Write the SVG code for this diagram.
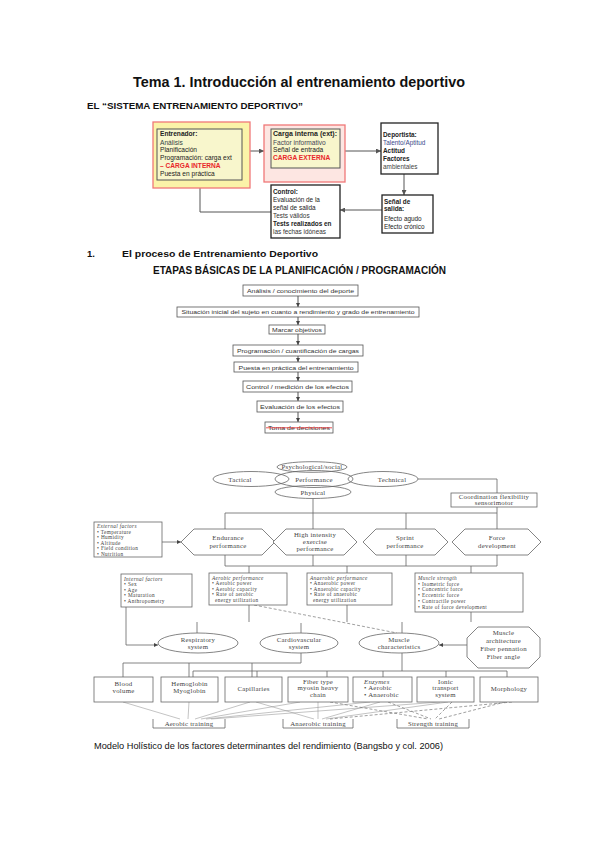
<svg xmlns="http://www.w3.org/2000/svg" width="599" height="848" viewBox="0 0 599 848">
<style>
.s{font-family:"Liberation Sans",Arial,sans-serif}
.b{font-weight:bold}
.r{fill:#e8262a}
.d{fill:#333}
.fc{font-family:"Liberation Sans",Arial,sans-serif;font-size:6px;fill:#333}
.fb{fill:#fff;stroke:#555;stroke-width:0.8}
.h{font-family:"Liberation Serif","Times New Roman",serif;font-size:6.8px;fill:#444;letter-spacing:0.25px}
.hm{font-family:"Liberation Serif","Times New Roman",serif;font-size:5.3px;fill:#444;letter-spacing:0.35px}
.hc{text-anchor:middle}
.i{font-style:italic}
.ln{fill:none;stroke:#555;stroke-width:1}
.hl{fill:none;stroke:#666;stroke-width:0.8}
.hs{fill:#fff;stroke:#666;stroke-width:0.8}
.dash{fill:none;stroke:#777;stroke-width:0.7;stroke-dasharray:3 2}
.thin{fill:none;stroke:#888;stroke-width:0.5}
</style>
<defs>
<marker id="ar" viewBox="0 0 6 6" refX="6" refY="3" markerWidth="5" markerHeight="5" orient="auto" markerUnits="userSpaceOnUse">
<path d="M0,0 L6,3 L0,6 z" fill="#555"/>
</marker>
<marker id="ah" viewBox="0 0 6 6" refX="6" refY="3" markerWidth="4" markerHeight="4" orient="auto" markerUnits="userSpaceOnUse">
<path d="M0,0 L6,3 L0,6 z" fill="#444"/>
</marker>
</defs>
<rect width="599" height="848" fill="#fff"/>

<text class="s b" x="299" y="87" font-size="14.5" text-anchor="middle" textLength="332" lengthAdjust="spacingAndGlyphs" fill="#111">Tema 1. Introducción al entrenamiento deportivo</text>
<text class="s b" x="87" y="109" font-size="8.6" textLength="216" lengthAdjust="spacingAndGlyphs" fill="#111">EL “SISTEMA ENTRENAMIENTO DEPORTIVO”</text>

<!-- First diagram -->
<g id="connectors-sistema">
<line class="ln" x1="242" y1="151" x2="264" y2="151" marker-end="url(#ar)"/>
<line class="ln" x1="340" y1="151" x2="381" y2="151" marker-end="url(#ar)"/>
<line class="ln" x1="404" y1="174" x2="404" y2="195" marker-end="url(#ar)"/>
<line class="ln" x1="382" y1="210" x2="340" y2="210" marker-end="url(#ar)"/>
<polyline class="ln" points="271,212 200,212 200,180" marker-end="url(#ar)"/>
</g>
<g id="entrenador">
<rect x="153" y="122" width="97" height="66" fill="#fbf3a8" stroke="#f07878" stroke-width="1.3"/>
<rect x="157" y="129" width="85" height="51" fill="#f8f6cc" stroke="#555" stroke-width="1"/>
<text class="s" font-size="6.6" x="160" y="136"><tspan class="b" fill="#222">Entrenador:</tspan><tspan x="160" y="144.5" fill="#344">Análisis</tspan><tspan x="160" y="152" fill="#222">Planificación</tspan><tspan x="160" y="160" fill="#222">Programación: carga ext</tspan><tspan x="160" y="168" class="b r">– CARGA INTERNA</tspan><tspan x="160" y="176" fill="#222">Puesta en práctica</tspan></text>
</g>
<g id="carga">
<rect x="264" y="125" width="81" height="57" fill="#fde6e2" stroke="#f07878" stroke-width="1.3"/>
<rect x="271" y="129" width="69" height="39" fill="#f8f6cc" stroke="#555" stroke-width="1"/>
<text class="s b" font-size="6.6" x="273" y="136" fill="#222" textLength="64" lengthAdjust="spacingAndGlyphs">Carga interna (ext):</text>
<text class="s" font-size="6.6" x="273" y="144.5" fill="#445">Factor informativo</text>
<text class="s" font-size="6.6" x="273" y="152" fill="#222">Señal de entrada</text>
<text class="s b r" font-size="6.6" x="273" y="160">CARGA EXTERNA</text>
</g>
<g id="deportista">
<rect x="381" y="123" width="57" height="51" fill="#fff" stroke="#222" stroke-width="1.3"/>
<text class="s" font-size="6.4" x="383" y="137"><tspan class="b" fill="#222">Deportista:</tspan><tspan x="383" y="145" fill="#3a4a8a">Talento/Aptitud</tspan><tspan x="383" y="153" class="b" fill="#222">Actitud</tspan><tspan x="383" y="161" class="b" fill="#222">Factores</tspan><tspan x="383" y="169" fill="#444">ambientales</tspan></text>
</g>
<g id="senal">
<rect x="382" y="195" width="51" height="38" fill="#fff" stroke="#222" stroke-width="1.3"/>
<text class="s" font-size="6.4" x="384" y="204"><tspan class="b" fill="#222">Señal de</tspan><tspan x="384" y="211" class="b" fill="#222">salida:</tspan><tspan x="384" y="221" fill="#222">Efecto agudo</tspan><tspan x="384" y="229" fill="#222">Efecto crónico</tspan></text>
</g>
<g id="control">
<rect x="271" y="185" width="69" height="53" fill="#fff" stroke="#222" stroke-width="1.3"/>
<text class="s" font-size="6.4" x="273" y="194"><tspan class="b" fill="#222">Control:</tspan><tspan x="273" y="202" fill="#222">Evaluación de la</tspan><tspan x="273" y="210" fill="#222">señal de salida</tspan><tspan x="273" y="217.5" fill="#333">Tests válidos</tspan><tspan x="273" y="226" class="b" fill="#222">Tests realizados en</tspan><tspan x="273" y="234" fill="#333">las fechas idóneas</tspan></text>
</g>

<!-- Section 1 -->
<text class="s b" x="87" y="257" font-size="9.5" fill="#111">1.</text>
<text class="s b" x="122" y="257" font-size="9.5" textLength="196" lengthAdjust="spacingAndGlyphs" fill="#111">El proceso de Entrenamiento Deportivo</text>
<text class="s b" x="153" y="274" font-size="10.8" textLength="293" lengthAdjust="spacingAndGlyphs" fill="#111">ETAPAS BÁSICAS DE LA PLANIFICACIÓN / PROGRAMACIÓN</text>

<g id="connectors-etapas">
<line class="ln" x1="298" y1="296" x2="298" y2="307" stroke-width="0.7" marker-end="url(#ah)"/>
<line class="ln" x1="298" y1="317" x2="298" y2="325" stroke-width="0.7" marker-end="url(#ah)"/>
<line class="ln" x1="298" y1="334" x2="298" y2="345" stroke-width="0.7" marker-end="url(#ah)"/>
<line class="ln" x1="298" y1="356" x2="298" y2="362" stroke-width="0.7" marker-end="url(#ah)"/>
<line class="ln" x1="298" y1="372" x2="298" y2="381" stroke-width="0.7" marker-end="url(#ah)"/>
<line class="ln" x1="298" y1="392" x2="298" y2="401" stroke-width="0.7" marker-end="url(#ah)"/>
<line class="ln" x1="298" y1="412" x2="298" y2="422" stroke-width="0.7" marker-end="url(#ah)"/>
</g>
<g id="e1"><rect class="fb" x="243" y="285" width="115" height="11"/><text class="fc" x="300.5" y="292.7" text-anchor="middle" textLength="107" lengthAdjust="spacingAndGlyphs">Análisis / conocimiento del deporte</text></g>
<g id="e2"><rect class="fb" x="177" y="307" width="242" height="10"/><text class="fc" x="298" y="314.3" text-anchor="middle" textLength="233" lengthAdjust="spacingAndGlyphs">Situación inicial del sujeto en cuanto a rendimiento y grado de entrenamiento</text></g>
<g id="e3"><rect class="fb" x="269" y="325" width="56" height="9" stroke="#aaa"/><text class="fc" x="297" y="331.8" text-anchor="middle" textLength="50" lengthAdjust="spacingAndGlyphs">Marcar objetivos</text></g>
<g id="e4"><rect class="fb" x="233" y="345" width="130" height="11" stroke="#999"/><text class="fc" x="298" y="352.8" text-anchor="middle" textLength="122" lengthAdjust="spacingAndGlyphs">Programación / cuantificación de cargas</text></g>
<g id="e5"><rect class="fb" x="234" y="362" width="124" height="10" stroke="#aaa"/><text class="fc" x="296" y="369.5" text-anchor="middle" textLength="115" lengthAdjust="spacingAndGlyphs" fill="#5a4030">Puesta en práctica del entrenamiento</text></g>
<g id="e6"><rect class="fb" x="243" y="381" width="109" height="11" stroke="#333"/><text class="fc" x="297.5" y="389" text-anchor="middle" font-size="6.5" textLength="103" lengthAdjust="spacingAndGlyphs">Control / medición de los efectos</text></g>
<g id="e7"><rect class="fb" x="257" y="401" width="86" height="11" stroke="#222" stroke-width="1"/><text class="fc" x="300" y="409.2" text-anchor="middle" font-size="6.8" textLength="80" lengthAdjust="spacingAndGlyphs" fill="#222">Evaluación de los efectos</text></g>
<g id="e8"><rect class="fb" x="265" y="422" width="68" height="11" stroke="#222" stroke-width="1"/><text class="fc" x="299" y="430.2" text-anchor="middle" font-size="6.8" textLength="62" lengthAdjust="spacingAndGlyphs" fill="#222">Toma de decisiones</text><line x1="266" y1="427.8" x2="332" y2="427.8" stroke="#e8262a" stroke-width="0.8"/></g>

<!-- Holistic model -->
<g id="connectors-holistic">
<polyline class="hl" points="418,479 497,479 497,493"/>
<line class="hl" x1="313" y1="498.5" x2="313" y2="529"/>
<line class="hl" x1="225" y1="513" x2="497" y2="513"/>
<line class="hl" x1="225" y1="513" x2="225" y2="529"/>
<line class="hl" x1="406" y1="513" x2="406" y2="529"/>
<line class="hl" x1="497" y1="507" x2="497" y2="529"/>
<line class="hl" x1="162" y1="542" x2="181" y2="542" marker-end="url(#ah)"/>
<line class="hl" x1="225" y1="555" x2="225" y2="566"/>
<line class="hl" x1="313" y1="555" x2="313" y2="566"/>
<line class="hl" x1="406" y1="555" x2="406" y2="566"/>
<line class="hl" x1="497" y1="555" x2="497" y2="566"/>
<line class="hl" x1="225" y1="566" x2="497" y2="566"/>
<line class="hl" x1="249" y1="566" x2="249" y2="573"/>
<line class="hl" x1="347" y1="566" x2="347" y2="573"/>
<line class="hl" x1="471" y1="566" x2="471" y2="573"/>
<polyline class="hl" points="126,607 126,645 158,645" marker-end="url(#ah)"/>
<line class="hl" x1="197" y1="622" x2="197" y2="633"/>
<line class="hl" x1="249" y1="605" x2="249" y2="622"/>
<line class="hl" x1="301" y1="623" x2="301" y2="633"/>
<line class="hl" x1="347" y1="605" x2="347" y2="622"/>
<line class="hl" x1="402" y1="622" x2="402" y2="633"/>
<line class="hl" x1="471" y1="612" x2="471" y2="622"/>
<line class="dash" x1="254" y1="605" x2="397" y2="633"/>
<line class="hl" x1="467" y1="645" x2="439" y2="645" marker-end="url(#ah)"/>
<line class="hl" x1="301" y1="653" x2="301" y2="663"/>
<line class="hl" x1="123" y1="663" x2="301" y2="663"/>
<line class="hl" x1="123" y1="663" x2="123" y2="677"/>
<line class="hl" x1="189" y1="663" x2="189" y2="677"/>
<line class="hl" x1="252" y1="663" x2="252" y2="677"/>
<line class="hl" x1="402" y1="653" x2="402" y2="671"/>
<line class="hl" x1="193" y1="671" x2="507" y2="671"/>
<line class="hl" x1="193" y1="671" x2="193" y2="677"/>
<line class="hl" x1="257" y1="671" x2="257" y2="677"/>
<line class="hl" x1="327" y1="671" x2="327" y2="677"/>
<line class="hl" x1="383" y1="671" x2="383" y2="677"/>
<line class="hl" x1="446" y1="671" x2="446" y2="677"/>
<line class="hl" x1="507" y1="671" x2="507" y2="677"/>
<line class="thin" x1="123" y1="702" x2="180" y2="719"/>
<line class="thin" x1="189" y1="702" x2="188" y2="719"/>
<line class="thin" x1="250" y1="702" x2="195" y2="719"/>
<line class="thin" x1="300" y1="702" x2="201" y2="719"/>
<line class="thin" x1="370" y1="702" x2="206" y2="719"/>
<line class="thin" x1="440" y1="702" x2="211" y2="719"/>
<line class="thin" x1="256" y1="702" x2="314" y2="719"/>
<line class="thin" x1="318" y1="702" x2="318" y2="719"/>
<line class="thin" x1="380" y1="702" x2="322" y2="719"/>
<line class="thin" x1="448" y1="702" x2="326" y2="719"/>
<line class="dash" x1="330" y1="702" x2="428" y2="719"/>
<line class="dash" x1="388" y1="702" x2="431" y2="719"/>
<line class="dash" x1="452" y1="702" x2="435" y2="719"/>
<line class="dash" x1="505" y1="702" x2="439" y2="719"/>
<line class="dash" x1="512" y1="702" x2="330" y2="719"/>
</g>

<g id="tactical"><ellipse class="hl" cx="251" cy="479" rx="38" ry="7.5"/><text class="h hc" x="240" y="481.5">Tactical</text></g>
<g id="technical"><ellipse class="hl" cx="383" cy="479" rx="35" ry="7.5"/><text class="h hc" x="392" y="481.5">Technical</text></g>
<g id="psychological"><ellipse class="hs" cx="312" cy="467" rx="35" ry="5.3"/><text class="h hc" x="312" y="469.2" font-size="6.3">Psychological/social</text></g>
<g id="physical"><ellipse class="hs" cx="313" cy="492" rx="38" ry="6.5"/><text class="h hc" x="313" y="494.5">Physical</text></g>
<g id="performance"><ellipse class="hl" cx="314" cy="479" rx="39" ry="8.5"/><text class="h hc" x="314" y="481.8" font-size="7.3">Performance</text></g>
<g id="coordination"><rect class="hs" x="451" y="493" width="86" height="14"/><text class="h hc" x="494" y="499" font-size="6" letter-spacing="0">Coordination flexibility</text><text class="h hc" x="494" y="505.3" font-size="6" letter-spacing="0">sensorimotor</text></g>

<g id="external"><rect class="hs" x="94" y="522" width="68" height="35"/><text class="hm" x="97" y="528"><tspan class="i">External factors</tspan><tspan x="97" y="533.6">• Temperature</tspan><tspan x="97" y="539.2">• Humidity</tspan><tspan x="97" y="544.8">• Altitude</tspan><tspan x="97" y="550.4">• Field condition</tspan><tspan x="97" y="556">• Nutrition</tspan></text></g>
<g id="endurance"><polygon class="hs" points="194,529 262,529 275,542 262,555 194,555 181,542"/><text class="h hc" x="228" y="540">Endurance</text><text class="h hc" x="228" y="548">performance</text></g>
<g id="highintensity"><polygon class="hs" points="286,529 344,529 357,542 344,555 286,555 273,542"/><text class="h hc" x="315" y="537" font-size="6.3">High intensity</text><text class="h hc" x="315" y="544" font-size="6.3">exercise</text><text class="h hc" x="315" y="551" font-size="6.3">performance</text></g>
<g id="sprint"><polygon class="hs" points="376,529 435,529 448,542 435,555 376,555 363,542"/><text class="h hc" x="405" y="540">Sprint</text><text class="h hc" x="405" y="548">performance</text></g>
<g id="force"><polygon class="hs" points="465,529 528,529 541,542 528,555 465,555 452,542"/><text class="h hc" x="497" y="540">Force</text><text class="h hc" x="497" y="548">development</text></g>

<g id="internal"><rect class="hs" x="121" y="574" width="71" height="33"/><text class="hm" x="124" y="580.5"><tspan class="i">Internal factors</tspan><tspan x="124" y="586">• Sex</tspan><tspan x="124" y="591.5">• Age</tspan><tspan x="124" y="597">• Maturation</tspan><tspan x="124" y="602.5">• Anthropometry</tspan></text></g>
<g id="aerobic"><rect class="hs" x="209" y="573" width="78" height="32"/><text class="hm" x="212" y="579.5"><tspan class="i">Aerobic performance</tspan><tspan x="212" y="585">• Aerobic power</tspan><tspan x="212" y="590.5">• Aerobic capacity</tspan><tspan x="212" y="596">• Rate of aerobic</tspan><tspan x="215" y="601.5">energy utilization</tspan></text></g>
<g id="anaerobic"><rect class="hs" x="307" y="573" width="85" height="32"/><text class="hm" x="310" y="579.5"><tspan class="i">Anaerobic performance</tspan><tspan x="310" y="585">• Anaerobic power</tspan><tspan x="310" y="590.5">• Anaerobic capacity</tspan><tspan x="310" y="596">• Rate of anaerobic</tspan><tspan x="313" y="601.5">energy utilization</tspan></text></g>
<g id="strength"><rect class="hs" x="415" y="573" width="108" height="39"/><text class="hm" x="418" y="579.5"><tspan class="i">Muscle strength</tspan><tspan x="418" y="585.5">• Isometric force</tspan><tspan x="418" y="591.2">• Concentric force</tspan><tspan x="418" y="597">• Eccentric force</tspan><tspan x="418" y="602.7">• Contractile power</tspan><tspan x="418" y="608.5">• Rate of force development</tspan></text></g>

<g id="respiratory"><ellipse class="hs" cx="198" cy="643" rx="40" ry="10"/><text class="h hc" x="198" y="642">Respiratory</text><text class="h hc" x="198" y="649">system</text></g>
<g id="cardiovascular"><ellipse class="hs" cx="299" cy="643" rx="39" ry="10"/><text class="h hc" x="299" y="642">Cardiovascular</text><text class="h hc" x="299" y="649">system</text></g>
<g id="musclechar"><ellipse class="hs" cx="399" cy="643" rx="40" ry="10"/><text class="h hc" x="399" y="642">Muscle</text><text class="h hc" x="399" y="649">characteristics</text></g>
<g id="architecture"><polygon class="hs" points="478,627 529,627 540,638 540,657 529,668 478,668 467,657 467,638"/><text class="h hc" x="503.5" y="635" font-size="6.3">Muscle</text><text class="h hc" x="503.5" y="642.5" font-size="6.3">architecture</text><text class="h hc" x="503.5" y="651" font-size="6.3" letter-spacing="0">Fiber pennation</text><text class="h hc" x="503.5" y="658.5" font-size="6.3">Fiber angle</text></g>

<g id="blood"><rect class="hs" x="94" y="677" width="59" height="25"/><text class="h hc" x="123.5" y="686">Blood</text><text class="h hc" x="123.5" y="693">volume</text></g>
<g id="hemoglobin"><rect class="hs" x="161" y="677" width="57" height="25"/><text class="h hc" x="189.5" y="686">Hemoglobin</text><text class="h hc" x="189.5" y="693">Myoglobin</text></g>
<g id="capillaries"><rect class="hs" x="225" y="677" width="57" height="25"/><text class="h hc" x="253.5" y="691">Capillaries</text></g>
<g id="fibertype"><rect class="hs" x="288" y="677" width="60" height="25"/><text class="h hc" x="318" y="684">Fiber type</text><text class="h hc" x="318" y="690">myosin heavy</text><text class="h hc" x="318" y="696.5">chain</text></g>
<g id="enzymes"><rect class="hs" x="353" y="677" width="59" height="25"/><text class="h" x="364" y="684"><tspan class="i">Enzymes</tspan><tspan x="364" y="690">• Aerobic</tspan><tspan x="364" y="696.5">• Anaerobic</tspan></text></g>
<g id="ionic"><rect class="hs" x="417" y="677" width="57" height="25"/><text class="h hc" x="445.5" y="684">Ionic</text><text class="h hc" x="445.5" y="690">transport</text><text class="h hc" x="445.5" y="696.5">system</text></g>
<g id="morphology"><rect class="hs" x="480" y="677" width="58" height="25"/><text class="h hc" x="509" y="691">Morphology</text></g>

<g id="aerobictraining"><path class="hl" d="M153,719 V728 H225 V719"/><text class="h hc" x="189" y="726">Aerobic training</text></g>
<g id="anaerobictraining"><path class="hl" d="M283,719 V728 H353 V719"/><text class="h hc" x="318" y="726">Anaerobic training</text></g>
<g id="strengthtraining"><path class="hl" d="M397,719 V728 H469 V719"/><text class="h hc" x="433" y="726">Strength training</text></g>

<text class="s" x="94" y="749" font-size="8.4" textLength="349" lengthAdjust="spacingAndGlyphs" fill="#111">Modelo Holístico de los factores determinantes del rendimiento (Bangsbo y col. 2006)</text>
</svg>
